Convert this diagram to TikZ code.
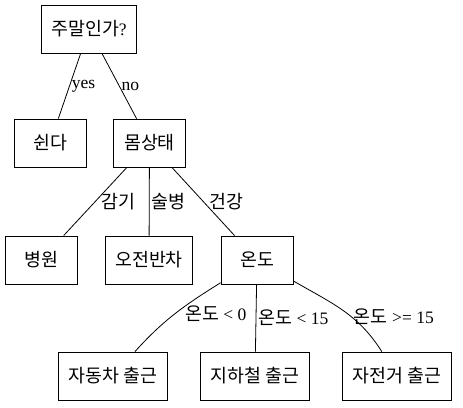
\documentclass[tikz,border=0pt]{standalone}
\usepackage{fontspec}
\setmainfont{Liberation Serif}
\newfontfamily\kr[Scale=1.05]{Noto Sans CJK KR}
\usetikzlibrary{positioning}

\tikzset{
  box/.style={draw, line width=0.8pt, inner xsep=10pt, minimum width=72pt, minimum height=48pt},
  lbl/.style={midway, right, inner sep=2pt}
}

\begin{document}
\begin{tikzpicture}[x=1pt, y=-1pt, line width=0.8pt, font=\fontsize{17.5}{21}\selectfont]
  \fill[white] (0,0) rectangle (463,407);
  \useasboundingbox (0,0) rectangle (463,407);
  % nodes
  \node[box] (weekend) at (89,29) {{\kr 주말인가}?};
  \node[box] (rest) at (50,143) {\kr 쉰다};
  \node[box] (condition) at (149.5,143) {\kr 몸상태};
  \node[box] (hospital) at (41,260) {\kr 병원};
  \node[box] (halfday) at (149,260) {\kr 오전반차};
  \node[box] (temp) at (257,260) {\kr 온도};
  \node[box] (car) at (113,376) {\kr 자동차 출근};
  \node[box] (subway) at (255,376) {\kr 지하철 출근};
  \node[box] (bike) at (397,376) {\kr 자전거 출근};
  % edges
  \draw (weekend) -- (rest) node[lbl] {yes};
  \draw (weekend) -- (condition) node[lbl] {no};
  \draw (condition) -- (hospital) node[lbl, xshift=4pt] {\kr 감기};
  \draw (condition) -- (halfday) node[lbl] {\kr 술병};
  \draw (condition) -- (temp) node[lbl, xshift=4pt] {\kr 건강};
  \draw (temp) to[out=-148, in=48] node[lbl, xshift=8pt] {{\kr 온도} < 0} (car);
  \draw (temp) -- (subway) node[lbl] {{\kr 온도} < 15};
  \draw (temp) to[out=-30, in=122] node[lbl, pos=0.6] {{\kr 온도} >= 15} (bike);
\end{tikzpicture}
\end{document}
